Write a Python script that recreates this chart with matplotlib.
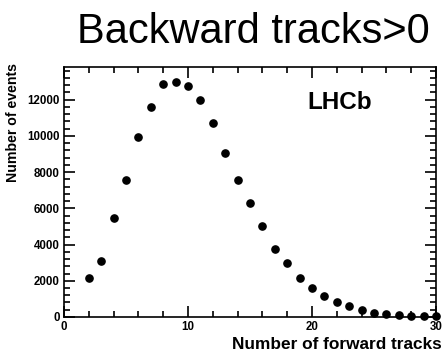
import numpy as np
import matplotlib
matplotlib.use('Agg')
import matplotlib.pyplot as plt
from matplotlib.ticker import MultipleLocator

plt.rcParams['font.family'] = ['Liberation Sans', 'DejaVu Sans']

# Anzahl Vorwaertsspuren und Ereignisse pro Bin
n_forward = [2, 3, 4, 5, 6, 7, 8, 9, 10, 11, 12, 13, 14, 15, 16,
             17, 18, 19, 20, 21, 22, 23, 24, 25, 26, 27, 28, 29, 30]
n_events = [2150, 3080, 5450, 7570, 9950, 11570, 12860, 12990, 12750, 11990,
            10720, 9060, 7590, 6280, 5030, 3740, 3000, 2160, 1600, 1140,
            830, 610, 410, 240, 160, 110, 80, 40, 30]

fig = plt.figure(figsize=(4.44, 3.56), dpi=100)
ax = fig.add_axes([0.144, 0.1096, 0.838, 0.702])

ax.plot(n_forward, n_events, 'o', color='black', markersize=5.2, clip_on=False, zorder=3)

ax.set_xlim(0, 30)
ax.set_ylim(0, 13800)
ax.xaxis.set_major_locator(MultipleLocator(10))
ax.xaxis.set_minor_locator(MultipleLocator(2))
ax.yaxis.set_major_locator(MultipleLocator(2000))
ax.yaxis.set_minor_locator(MultipleLocator(400))
ax.tick_params(which='both', direction='in', top=True, right=True, width=1.2)
ax.tick_params(which='major', length=8, labelsize=8.3, pad=3)
ax.tick_params(which='minor', length=4.5)
for lab in ax.get_xticklabels() + ax.get_yticklabels():
    lab.set_fontweight('bold')
for s in ax.spines.values():
    s.set_linewidth(1.2)

ax.set_xlabel('Number of forward tracks', fontsize=12.4, fontweight='bold', loc='right', labelpad=3)
ax.xaxis.label.set_x(1.015)
ax.set_ylabel('Number of events', fontsize=10.2, fontweight='bold', loc='top', labelpad=5)
ax.yaxis.label.set_y(1.015)
ax.text(0.74, 0.86, 'LHCb', transform=ax.transAxes, fontsize=17.5, fontweight='bold', ha='center', va='center')

fig.text(0.968, 0.879, 'Backward tracks>0', fontsize=30, ha='right', va='baseline')

fig.savefig('out.png', dpi=100)
